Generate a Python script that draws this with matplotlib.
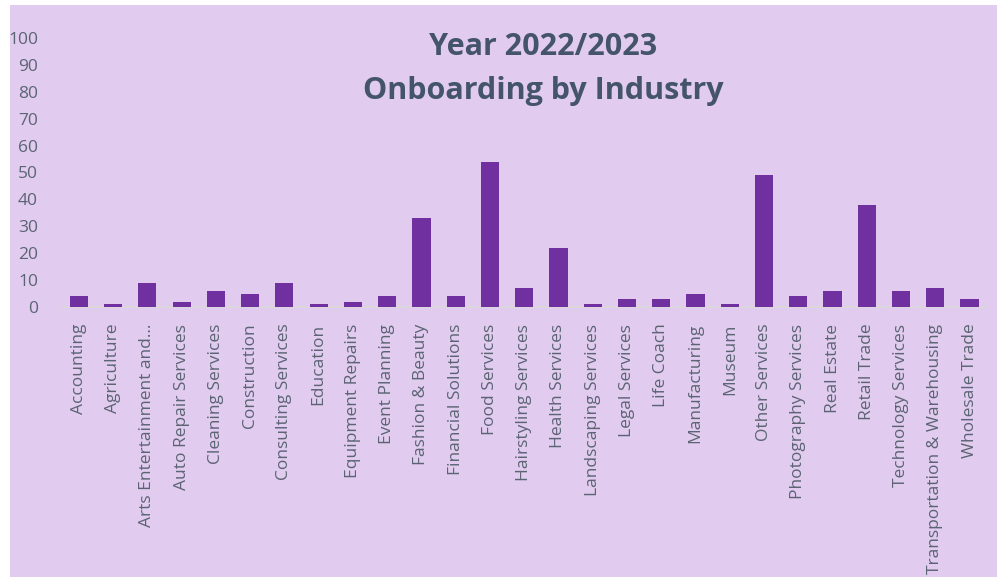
import numpy as np
import matplotlib
matplotlib.use("Agg")
import matplotlib.pyplot as plt
from matplotlib.patches import Rectangle

# Data
industries = ["Accounting", "Agriculture", "Arts Entertainment and...",
              "Auto Repair Services", "Cleaning Services", "Construction",
              "Consulting Services", "Education", "Equipment Repairs",
              "Event Planning", "Fashion & Beauty", "Financial Solutions",
              "Food Services", "Hairstyling Services", "Health Services",
              "Landscaping Services", "Legal Services", "Life Coach",
              "Manufacturing", "Museum", "Other Services",
              "Photography Services", "Real Estate", "Retail Trade",
              "Technology Services", "Transportation & Warehousing",
              "Wholesale Trade"]
counts = [4, 1, 9, 2, 6, 5, 9, 1, 2, 4, 33, 4, 54, 7, 22, 1, 3, 3, 5, 1,
          49, 4, 6, 38, 6, 7, 3]
yticks = list(range(0, 101, 10))

bg = "#E1CBEE"
bar_color = "#7030A0"
title_color = "#44546A"
label_color = "#5B6474"

plt.rcParams["font.family"] = ["Open Sans", "DejaVu Sans"]

dpi = 100
fig = plt.figure(figsize=(1001/dpi, 577/dpi), dpi=dpi)
fig.patch.set_facecolor("white")
# lavender chart area, white margin on the top/left/right
fig.patches.append(Rectangle((10/1001, 0), 987/1001, 572/577,
                             transform=fig.transFigure, facecolor=bg,
                             edgecolor="none", zorder=-10))

ax = fig.add_axes([61.7/1001, (577-307)/577, 925/1001, 269/577])
ax.set_facecolor("none")
x = np.arange(len(industries))
ax.bar(x, counts, width=0.53, color=bar_color, zorder=3)

ax.set_xlim(-0.5, len(industries) - 0.5)
ax.set_ylim(0, 100)
ax.set_yticks(yticks)
ax.set_yticklabels([str(t) for t in yticks], fontsize=12.5, color=label_color)
ax.set_xticks(x)
ax.set_xticklabels(industries, rotation=90, fontsize=12.5, color=label_color)
ax.tick_params(axis="both", length=0)
ax.tick_params(axis="y", pad=17)
ax.tick_params(axis="x", pad=12)

for s in ["top", "right", "left"]:
    ax.spines[s].set_visible(False)
ax.spines["bottom"].set_color("#D9D9D9")
ax.spines["bottom"].set_linewidth(1.2)

fig.text(543/1001, 1 - 47/577, "Year 2022/2023", ha="center", va="center",
         fontsize=22, fontweight="bold", color=title_color)
fig.text(543/1001, 1 - 91/577, "Onboarding by Industry", ha="center",
         va="center", fontsize=22, fontweight="bold", color=title_color)

fig.savefig("out.png", dpi=dpi)
